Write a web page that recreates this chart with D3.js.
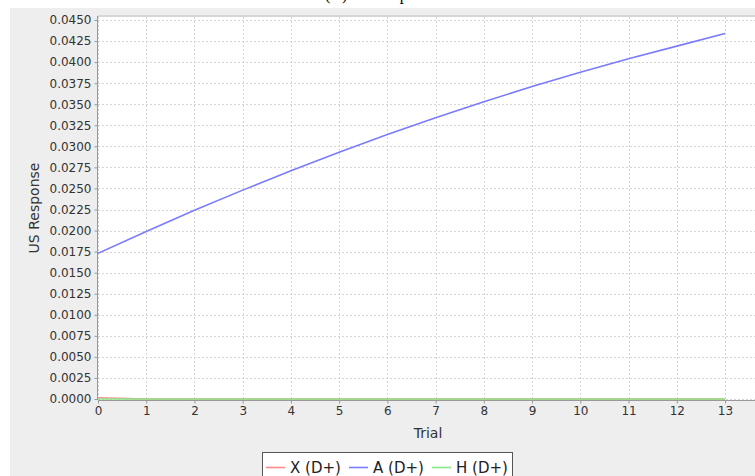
<!DOCTYPE html>
<html>
<head>
<meta charset="utf-8">
<script src="https://cdn.jsdelivr.net/npm/d3@7/dist/d3.min.js"></script>
<style>
  html, body { margin: 0; padding: 0; background: #ffffff; }
  svg { display: block; }
  text { font-family: "DejaVu Sans", sans-serif; }
</style>
</head>
<body>
<svg id="chart" width="755" height="476"></svg>
<script>
// Trials on the x axis
const trials = [0, 1, 2, 3, 4, 5, 6, 7, 8, 9, 10, 11, 12, 13];

// US response per trial for each stimulus
const seriesX = [0.00015, 0.0, 0.0, 0.0, 0.0, 0.0, 0.0, 0.0, 0.0, 0.0, 0.0, 0.0, 0.0, 0.0];
const seriesA = [0.0173, 0.0199, 0.0224, 0.0248, 0.0271, 0.0293, 0.0314, 0.0334, 0.0353, 0.0371, 0.0388, 0.0404, 0.0419, 0.0434];
const seriesH = [0.0, 0.0, 0.0, 0.0, 0.0, 0.0, 0.0, 0.0, 0.0, 0.0, 0.0, 0.0, 0.0, 0.0];

const seriesNames = ["X (D+)", "A (D+)", "H (D+)"];
const seriesColors = ["#ff8a8a", "#7b7bff", "#8ae88a"];

const yTicks = d3.range(0, 19).map(i => i * 0.0025);
const xTicks = trials;

const title = "(A) US Response";
const xLabel = "Trial";
const yLabel = "US Response";

const W = 755, H = 476;
const plot = { left: 98, top: 16, right: 758, bottom: 400 };

const svg = d3.select("#chart");

// panel background
svg.append("rect").attr("x", 0).attr("y", 0).attr("width", W).attr("height", H).attr("fill", "#ffffff");
svg.append("rect").attr("x", 10).attr("y", 8).attr("width", W - 10).attr("height", H - 8).attr("fill", "#eeeeee");

// title, sitting above the top edge of the view
svg.append("text")
  .attr("x", 325).attr("y", 0)
  .attr("font-size", 16)
  .attr("fill", "#000")
  .style("font-family", "'Liberation Serif', serif")
  .text(title);

const x = d3.scaleLinear().domain([0, 13]).range([plot.left, 725]);
const y = d3.scaleLinear().domain([0, 0.0450]).range([399, 20]);

// plot area
svg.append("rect")
  .attr("x", plot.left).attr("y", plot.top)
  .attr("width", plot.right - plot.left).attr("height", plot.bottom - plot.top)
  .attr("fill", "#ffffff");
svg.append("line")
  .attr("x1", plot.left).attr("x2", W)
  .attr("y1", plot.top).attr("y2", plot.top)
  .attr("stroke", "#d6d6d6").attr("stroke-width", 2);

// grid
const grid = svg.append("g");
grid.selectAll("line.h").data(yTicks).enter().append("line")
  .attr("x1", plot.left).attr("x2", plot.right)
  .attr("y1", d => Math.round(y(d)) + 0.5).attr("y2", d => Math.round(y(d)) + 0.5)
  .attr("stroke", "#d4d4d4").attr("stroke-width", 1).attr("stroke-dasharray", "2,2");
grid.selectAll("line.v").data(xTicks).enter().append("line")
  .attr("x1", d => Math.round(x(d)) + 0.5).attr("x2", d => Math.round(x(d)) + 0.5)
  .attr("y1", plot.top + 1).attr("y2", plot.bottom)
  .attr("stroke", "#d4d4d4").attr("stroke-width", 1).attr("stroke-dasharray", "2,2");

// axes
const yAxis = d3.axisLeft(y).tickValues(yTicks).tickFormat(d3.format(".4f")).tickSize(3).tickPadding(3);
const gy = svg.append("g").attr("transform", `translate(${plot.left - 0.5},0)`).call(yAxis);
gy.select(".domain").attr("d", `M0,${plot.top}V${plot.bottom}`).attr("stroke", "#999");
gy.selectAll(".tick line").attr("stroke", "#999");
gy.selectAll(".tick text").attr("font-size", 12).attr("fill", "#333").attr("font-family", "DejaVu Sans");

const xAxis = d3.axisBottom(x).tickValues(xTicks).tickFormat(d3.format("d")).tickSize(3).tickPadding(3);
const gx = svg.append("g").attr("transform", `translate(0,${plot.bottom + 0.5})`).call(xAxis);
gx.select(".domain").attr("d", `M${plot.left},0H${W}`).attr("stroke", "#999");
gx.selectAll(".tick line").attr("stroke", "#999");
gx.selectAll(".tick text").attr("font-size", 12).attr("fill", "#333").attr("font-family", "DejaVu Sans");

// axis labels
svg.append("text")
  .attr("x", 428).attr("y", 438)
  .attr("text-anchor", "middle").attr("font-size", 14).attr("fill", "#333")
  .text(xLabel);
svg.append("text")
  .attr("transform", `translate(39,${(plot.top + plot.bottom) / 2}) rotate(-90)`)
  .attr("text-anchor", "middle").attr("font-size", 14).attr("fill", "#333")
  .text(yLabel);

// series
const line = d3.line().x((d, i) => x(trials[i])).y(d => y(d));
svg.append("clipPath").attr("id", "plotclip").append("rect")
  .attr("x", plot.left).attr("y", plot.top).attr("width", plot.right - plot.left).attr("height", plot.bottom - plot.top);
const lines = svg.append("g").attr("clip-path", "url(#plotclip)");
[seriesX, seriesA, seriesH].forEach((s, k) => {
  lines.append("path").datum(s)
    .attr("d", line)
    .attr("fill", "none")
    .attr("stroke", seriesColors[k])
    .attr("stroke-width", 1.6);
});

// legend
const legend = svg.append("g");
legend.append("rect")
  .attr("x", 262.5).attr("y", 452.5).attr("width", 250).attr("height", 30)
  .attr("fill", "#ffffff").attr("stroke", "#555").attr("stroke-width", 1);
const legendX = [266, 349, 432];
seriesNames.forEach((n, k) => {
  legend.append("line")
    .attr("x1", legendX[k]).attr("x2", legendX[k] + 19)
    .attr("y1", 467.5).attr("y2", 467.5)
    .attr("stroke", seriesColors[k]).attr("stroke-width", 1.6);
  legend.append("text")
    .attr("x", legendX[k] + 24).attr("y", 473)
    .attr("font-size", 15).attr("fill", "#222")
    .text(n);
});
</script>
</body>
</html>
